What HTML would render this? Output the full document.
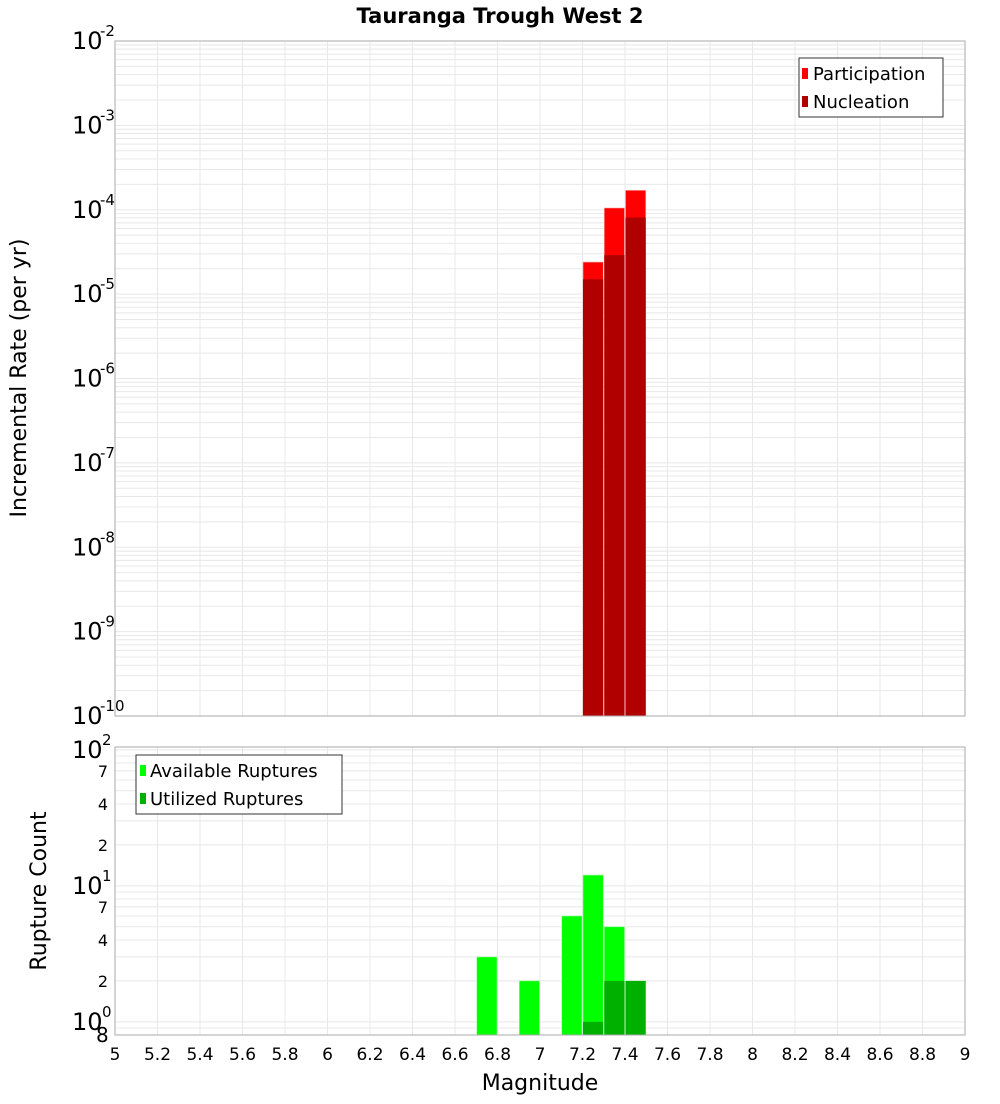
<!DOCTYPE html>
<html><head><meta charset="utf-8"><style>
body{margin:0;background:#fff;font-family:"DejaVu Sans","Liberation Sans",sans-serif;}
svg text{font-family:"DejaVu Sans","Liberation Sans",sans-serif;}
</style></head><body>
<svg id="chart" width="1000" height="1100" xmlns="http://www.w3.org/2000/svg">
<rect width="1000" height="1100" fill="#fff"/>
<text x="500" y="23" text-anchor="middle" font-size="21" font-weight="bold">Tauranga Trough West 2</text>
<g id="topg"></g><g id="botg"></g>
<text transform="translate(26,378) rotate(-90)" text-anchor="middle" font-size="22">Incremental Rate (per yr)</text>
<text transform="translate(46,891) rotate(-90)" text-anchor="middle" font-size="22">Rupture Count</text>
<text x="540" y="1090" text-anchor="middle" font-size="22">Magnitude</text>
</svg>
<script>
const mags = [7.25, 7.35, 7.45];
const participation = [2.4e-5, 1.05e-4, 1.7e-4];
const nucleation = [1.5e-5, 2.9e-5, 8.1e-5];
const availMags = [6.75, 6.95, 7.15, 7.25, 7.35];
const available = [3, 2, 6, 12, 5];
const utilMags = [7.25, 7.35, 7.45];
const utilized = [1, 2, 2];
const xTicks = [5,5.2,5.4,5.6,5.8,6,6.2,6.4,6.6,6.8,7,7.2,7.4,7.6,7.8,8,8.2,8.4,8.6,8.8,9];
const xTickLabels = ["5","5.2","5.4","5.6","5.8","6","6.2","6.4","6.6","6.8","7","7.2","7.4","7.6","7.8","8","8.2","8.4","8.6","8.8","9"];
const topExps = [-10,-9,-8,-7,-6,-5,-4,-3,-2];
const botMinor = [2,4,7,20,40,70];

const NS="http://www.w3.org/2000/svg";
const L=115,R=965;
const x=m=>L+(m-5)/4*(R-L);
const T1=41,B1=716;
const y1=v=>B1-(Math.log10(v)+10)*(B1-T1)/8;
const T2=747,B2=1035;
const y2=v=>B2-(Math.log10(v)-Math.log10(0.8))*136;
function el(p,tag,a,txt){const e=document.createElementNS(NS,tag);for(const k in a)e.setAttribute(k,a[k]);if(txt!==undefined)e.textContent=txt;p.appendChild(e);return e;}
const topG=document.getElementById('topg'), botG=document.getElementById('botg');

for(let e=-10;e<-2;e++)for(let k=1;k<10;k++){const yy=y1(k*Math.pow(10,e));
 const g=el(topG,'line',{x1:L,x2:R,y1:yy,y2:yy,stroke:'#e8e8e8','stroke-width':1});
 
 }
xTicks.forEach(m=>{const g=el(topG,'line',{x1:x(m),x2:x(m),y1:T1,y2:B1,stroke:'#e8e8e8'});
 
 
 const g2=el(botG,'line',{x1:x(m),x2:x(m),y1:T2,y2:B2,stroke:'#e8e8e8'});
 
 });
mags.forEach((m,i)=>{
 const w=(x(m+0.05)-x(m-0.05))-1;
 const r=el(topG,'rect',{x:x(m-0.05)+0.5,y:y1(participation[i]),width:w,height:B1-y1(participation[i]),fill:'#ff0000',stroke:'#ffb0b0','stroke-width':0.6});
 
 
 const n=el(topG,'rect',{x:x(m-0.05)+0.5,y:y1(nucleation[i]),width:w,height:B1-y1(nucleation[i]),fill:'#b00000'});
 
 
});
el(topG,'rect',{x:L,y:T1,width:R-L,height:B1-T1,fill:'none',stroke:'#aaa'});
topExps.forEach(e=>{const yy=y1(Math.pow(10,e));
 const t=el(topG,'text',{x:72,y:yy+8,'font-size':24},'10');
 
 
 const s=el(topG,'text',{x:100,y:yy-5,'font-size':15},String(e));
 
 });
const lg=el(topG,'g',{});


el(lg,'rect',{x:799,y:58,width:144,height:59,fill:'#fff',stroke:'#333'});
el(lg,'rect',{x:802,y:68,width:6,height:11,fill:'#ff0000'});
el(lg,'text',{x:813,y:80,'font-size':18},'Participation');
el(lg,'rect',{x:802,y:96,width:6,height:11,fill:'#b00000'});
el(lg,'text',{x:813,y:108,'font-size':18},'Nucleation');

[0.8,0.9,1,2,3,4,5,6,7,8,9,10,20,30,40,50,60,70,80,90,100].forEach(v=>{const yy=y2(v);
 const g=el(botG,'line',{x1:L,x2:R,y1:yy,y2:yy,stroke:'#e8e8e8'});
 
 });
availMags.forEach((m,i)=>{const w=(x(m+0.05)-x(m-0.05))-1;
 const r=el(botG,'rect',{x:x(m-0.05)+0.5,y:y2(available[i]),width:w,height:B2-y2(available[i]),fill:'#00ff00',stroke:'#a0ffa0','stroke-width':0.6});
 
 });
utilMags.forEach((m,i)=>{const w=(x(m+0.05)-x(m-0.05))-1;
 const r=el(botG,'rect',{x:x(m-0.05)+0.5,y:y2(utilized[i]),width:w,height:B2-y2(utilized[i]),fill:'#00b000'});
 
 });
el(botG,'rect',{x:L,y:T2,width:R-L,height:B2-T2,fill:'none',stroke:'#aaa'});
[0,1,2].forEach(e=>{const yy=y2(Math.pow(10,e));
 const t=el(botG,'text',{x:72,y:yy+8,'font-size':24},'10');
 
 
 const s=el(botG,'text',{x:102,y:yy-5,'font-size':15},String(e));
 
 });
const e8=el(botG,'text',{x:96,y:1042,'font-size':20},'8');


botMinor.forEach(v=>{const t=el(botG,'text',{x:103,y:y2(v)+6,'font-size':16,'text-anchor':'middle'},String(v>=10?v/10:v));
 
 });
xTicks.forEach((m,i)=>{const t=el(botG,'text',{x:x(m),y:1060,'font-size':17,'text-anchor':'middle'},xTickLabels[i]);
 
 });
const lg2=el(botG,'g',{});


el(lg2,'rect',{x:136,y:755,width:206,height:59,fill:'#fff',stroke:'#333'});
el(lg2,'rect',{x:140,y:765,width:6,height:11,fill:'#00ff00'});
el(lg2,'text',{x:150,y:777,'font-size':18},'Available Ruptures');
el(lg2,'rect',{x:140,y:793,width:6,height:11,fill:'#00b000'});
el(lg2,'text',{x:150,y:805,'font-size':18},'Utilized Ruptures');
</script>
</body></html>
